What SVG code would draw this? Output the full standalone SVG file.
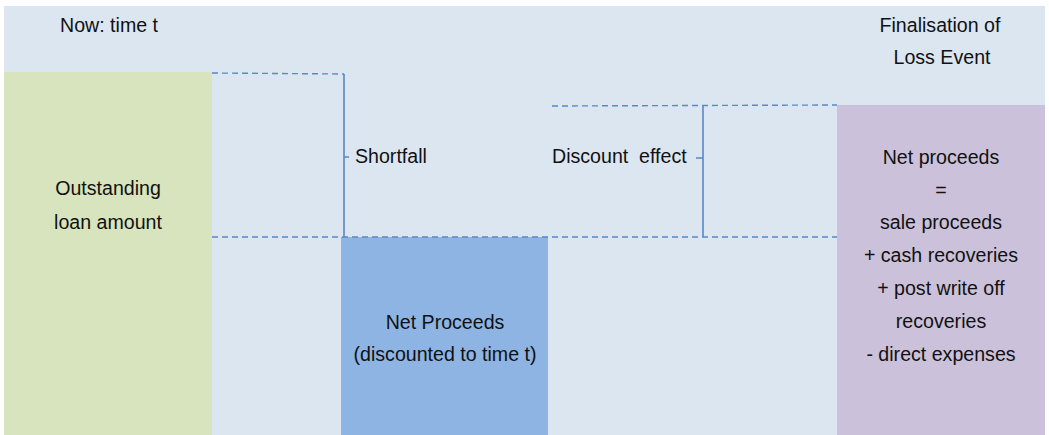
<svg xmlns="http://www.w3.org/2000/svg" width="1049" height="435" viewBox="0 0 1049 435">
  <style>
    text { font-family: "Liberation Sans", Arial, sans-serif; font-size: 19.6px; fill: #111; }
    .c { text-anchor: middle; }
    .dash { stroke: #5B87C5; stroke-width: 1.4; stroke-dasharray: 6 4; fill: none; }
    .brk { stroke: #5B87C5; stroke-width: 1.6; fill: none; }
  </style>
  <rect x="0" y="0" width="1049" height="435" fill="#ffffff"/>
  <!-- timeline background -->
  <rect id="background" x="4" y="6" width="1041" height="429" fill="#DCE6F1"/>

  <g id="now-label"><text x="60" y="32">Now: time t</text></g>
  <g id="final-label">
    <text class="c" x="940" y="32">Finalisation of</text>
    <text class="c" x="942" y="64">Loss Event</text>
  </g>

  <g id="outstanding">
    <rect x="4" y="72" width="208" height="363" fill="#D7E4BD"/>
    <text class="c" x="108" y="195">Outstanding</text>
    <text class="c" x="108" y="229">loan amount</text>
  </g>

  <g id="net-proceeds-discounted">
    <rect x="341" y="237" width="207" height="198" fill="#8EB4E3"/>
    <text class="c" x="445" y="329">Net Proceeds</text>
    <text class="c" x="445" y="361">(discounted to time t)</text>
  </g>

  <g id="net-proceeds">
    <rect x="837" y="105" width="208" height="330" fill="#CCC1DA"/>
    <text class="c" x="941" y="164">Net proceeds</text>
    <text class="c" x="941" y="197">=</text>
    <text class="c" x="941" y="229">sale proceeds</text>
    <text class="c" x="941" y="262">+ cash recoveries</text>
    <text class="c" x="941" y="295">+ post write off</text>
    <text class="c" x="941" y="328">recoveries</text>
    <text class="c" x="941" y="361">- direct expenses</text>
  </g>

  <g id="connectors">
    <line class="dash" x1="212" y1="73" x2="344" y2="74"/>
    <line class="dash" x1="212" y1="237" x2="837" y2="237"/>
    <line class="dash" x1="552" y1="106" x2="837" y2="105"/>
    <!-- shortfall bracket -->
    <path class="brk" d="M344 74 V237 M344 157 H349"/>
    <!-- discount effect bracket -->
    <path class="brk" d="M703 106 V237 M696 158 H703"/>
  </g>

  <g id="shortfall-label"><text x="355" y="163">Shortfall</text></g>
  <g id="discount-label"><text x="552" y="163" xml:space="preserve">Discount  effect</text></g>
</svg>
